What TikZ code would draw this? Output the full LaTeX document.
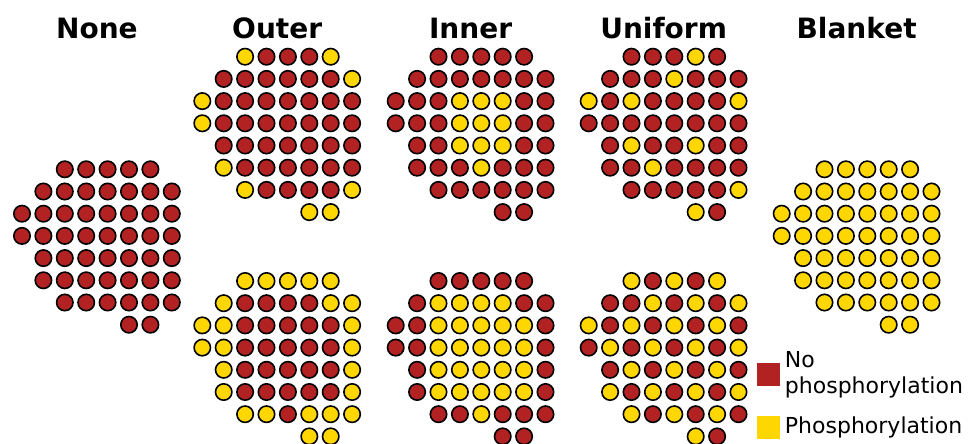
\documentclass[tikz,border=0pt]{standalone}
\usepackage{fontspec}
\setmainfont{DejaVu Sans}
\usetikzlibrary{positioning,calc}
\definecolor{nophosred}{RGB}{178,34,34}
\definecolor{phosyellow}{RGB}{255,215,0}

% one row of a cluster: #1 cluster, #2 row index, #3 first column, #4 cell styles
\newcommand{\dotrow}[4]{%
  \foreach \cell [count=\c from #3] in {#4} {
    \node[dot, \cell] (#1-#2-\c) at ($(#1)+(\c*21.4,#2*22.2)$) {};
  }%
}
% a whole cluster, rows start at columns 2,1,0,0,1,1,2,5
\newcommand{\dotcluster}[9]{%
  \dotrow{#1}{0}{2}{#2}\dotrow{#1}{1}{1}{#3}\dotrow{#1}{2}{0}{#4}\dotrow{#1}{3}{0}{#5}%
  \dotrow{#1}{4}{1}{#6}\dotrow{#1}{5}{1}{#7}\dotrow{#1}{6}{2}{#8}\dotrow{#1}{7}{5}{#9}%
}

\begin{document}
\begin{tikzpicture}[
  x=1pt, y=-1pt,
  dot/.style={circle, draw=black, line width=1.6pt, inner sep=0pt, minimum size=16.4pt},
  np/.style={fill=nophosred},
  ph/.style={fill=phosyellow},
  headlbl/.style={font=\fontsize{28}{30}\selectfont\bfseries, anchor=base, inner sep=0pt},
  keysq/.style={rectangle, inner sep=0pt, minimum size=23pt},
  keylbl/.style={font=\fontsize{22}{26}\selectfont, align=left, inner sep=0pt}
]
\useasboundingbox (0,0) rectangle (979,444);

\coordinate (none) at (22,169.3);
\coordinate (outertop) at (202.3,56.7);
\coordinate (outerbot) at (202.3,281);
\coordinate (innertop) at (395.7,56.7);
\coordinate (innerbot) at (395.7,281);
\coordinate (uniftop) at (588.7,56.7);
\coordinate (unifbot) at (588.7,281);
\coordinate (blanket) at (781.7,169.3);

% column headings
\node[headlbl] (h-none) at (96.9,38) {None};
\node[headlbl] (h-outer) at (277.2,38) {Outer};
\node[headlbl] (h-inner) at (470.6,38) {Inner};
\node[headlbl] (h-unif) at (663.6,38) {Uniform};
\node[headlbl] (h-blanket) at (856.6,38) {Blanket};

% clusters
\dotcluster{none}
  {np,np,np,np,np}{np,np,np,np,np,np,np}{np,np,np,np,np,np,np,np}{np,np,np,np,np,np,np,np}
  {np,np,np,np,np,np,np}{np,np,np,np,np,np,np}{np,np,np,np,np,np}{np,np}
\dotcluster{outertop}
  {ph,np,np,np,ph}{np,np,np,np,np,np,ph}{ph,np,np,np,np,np,np,np}{ph,np,np,np,np,np,np,np}
  {np,np,np,np,np,np,np}{ph,np,np,np,np,np,np}{ph,np,np,np,np,ph}{ph,ph}
\dotcluster{outerbot}
  {ph,ph,ph,ph,ph}{ph,np,np,np,np,ph,ph}{ph,ph,np,np,np,np,np,ph}{ph,ph,np,np,np,np,np,ph}
  {ph,np,np,np,np,np,ph}{ph,np,np,np,np,np,ph}{ph,ph,np,ph,ph,ph}{ph,ph}
\dotcluster{innertop}
  {np,np,np,np,np}{np,np,np,np,np,np,np}{np,np,np,ph,ph,ph,np,np}{np,np,np,ph,ph,ph,np,np}
  {np,np,ph,ph,ph,np,np}{np,np,np,ph,np,np,np}{np,np,np,np,np,np}{np,np}
\dotcluster{innerbot}
  {np,np,np,np,np}{np,ph,ph,ph,ph,np,np}{np,np,ph,ph,ph,ph,ph,np}{np,np,ph,ph,ph,ph,ph,np}
  {np,ph,ph,ph,ph,ph,np}{np,ph,ph,ph,ph,ph,np}{np,np,ph,np,np,np}{np,np}
\dotcluster{uniftop}
  {np,np,np,ph,np}{np,np,np,ph,np,np,np}{ph,np,ph,np,np,np,np,ph}{np,np,np,np,np,np,np,np}
  {np,ph,np,np,ph,np,np}{np,np,ph,np,np,np,np}{np,np,np,np,np,ph}{ph,np}
\dotcluster{unifbot}
  {ph,np,ph,np,ph}{np,np,ph,np,ph,np,ph}{ph,np,ph,np,ph,np,ph,np}{np,ph,np,ph,np,ph,np,ph}
  {np,ph,np,ph,np,ph,np}{ph,np,ph,np,ph,np,ph}{ph,np,ph,np,ph,np}{ph,np}
\dotcluster{blanket}
  {ph,ph,ph,ph,ph}{ph,ph,ph,ph,ph,ph,ph}{ph,ph,ph,ph,ph,ph,ph,ph}{ph,ph,ph,ph,ph,ph,ph,ph}
  {ph,ph,ph,ph,ph,ph,ph}{ph,ph,ph,ph,ph,ph,ph}{ph,ph,ph,ph,ph,ph}{ph,ph}

% legend
\node[keysq, np] (key-np) at (768,374.5) {};
\node[keysq, ph] (key-ph) at (768,427.5) {};
\node[keylbl, right=5pt of key-np] (lbl-np) {No\\phosphorylation};
\node[keylbl, right=5pt of key-ph] (lbl-ph) {Phosphorylation};
\end{tikzpicture}
\end{document}
